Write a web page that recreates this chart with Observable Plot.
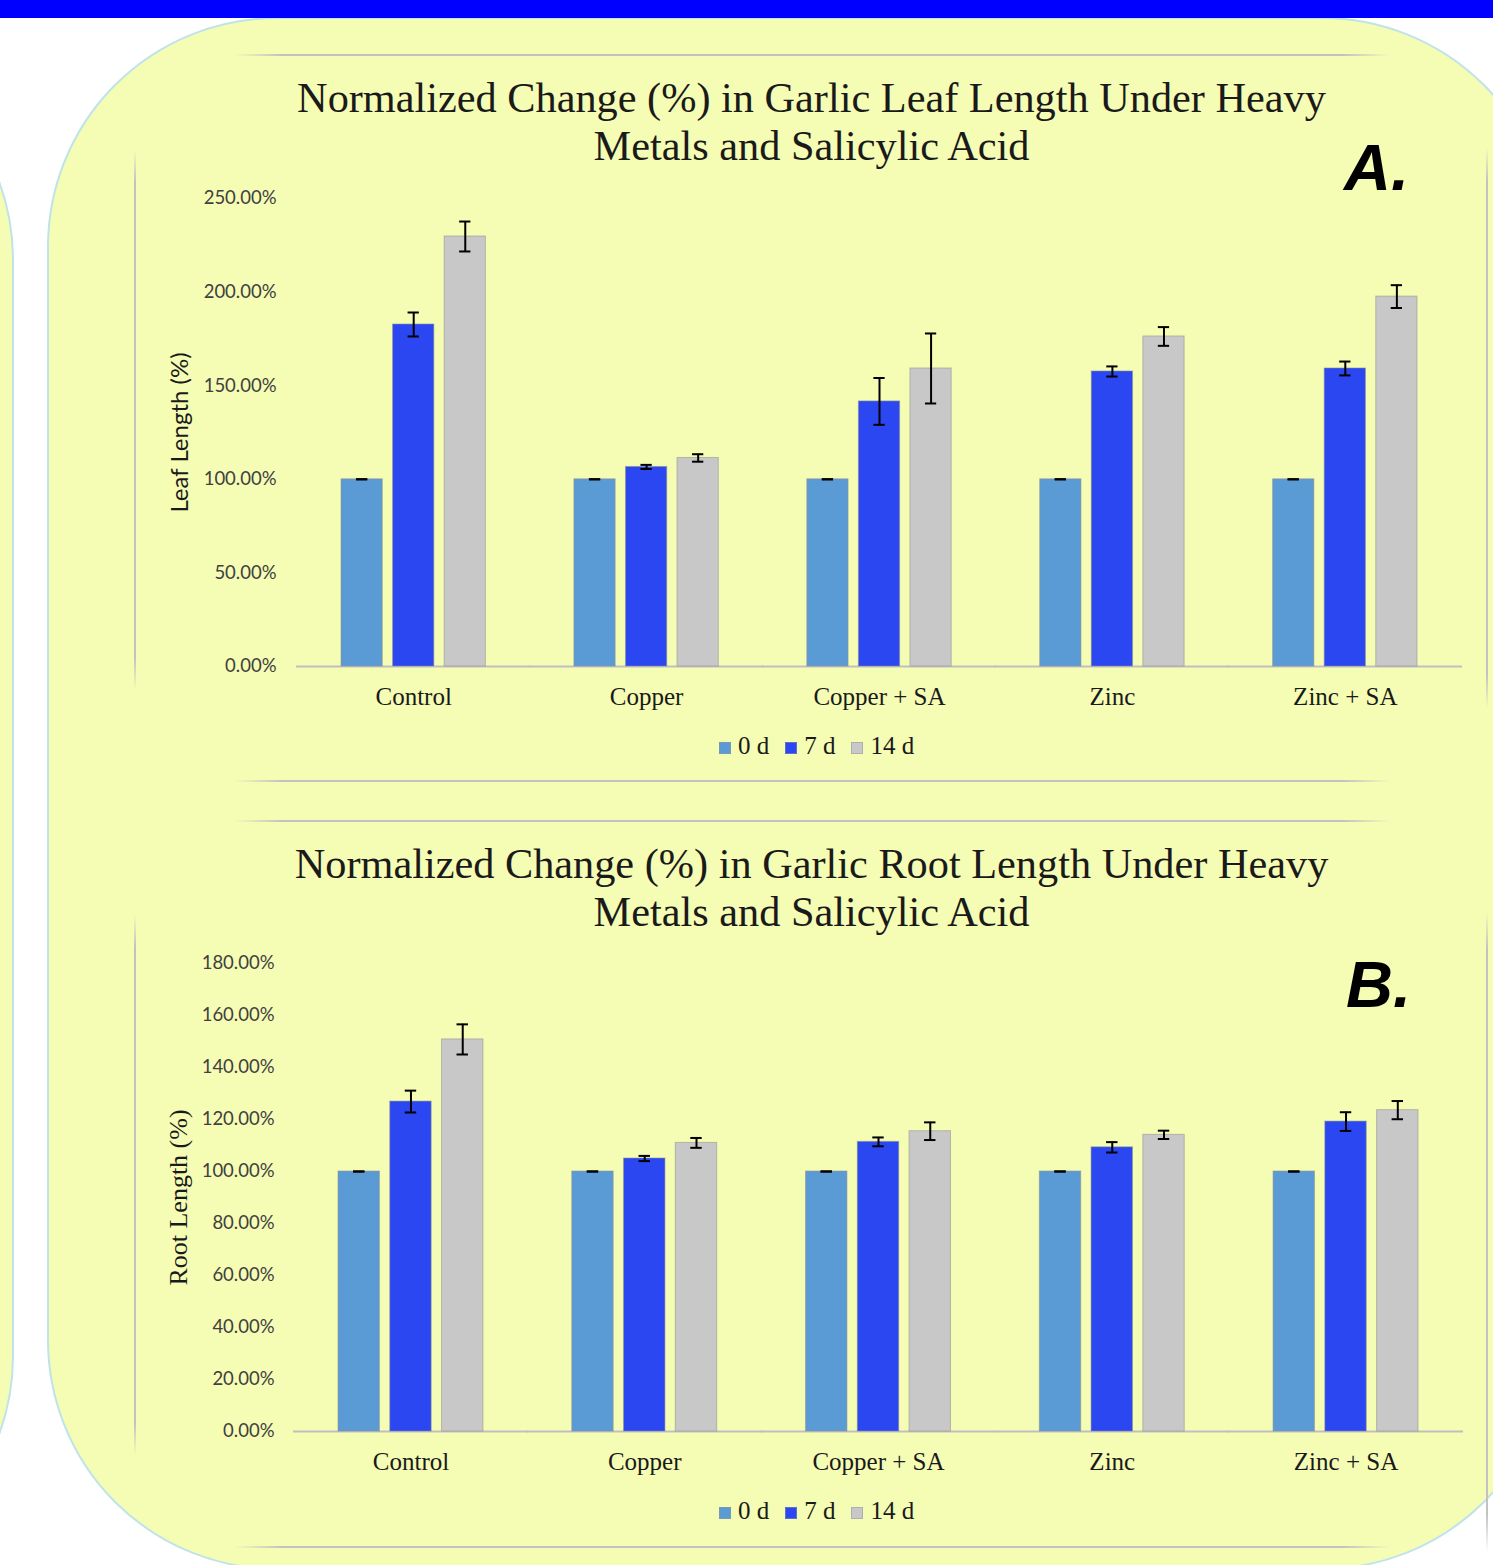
<!DOCTYPE html>
<html>
<head>
<meta charset="utf-8">
<script src="https://cdn.jsdelivr.net/npm/d3@7"></script>
<script src="https://cdn.jsdelivr.net/npm/@observablehq/plot@0.6"></script>
<style>
  html, body { margin: 0; padding: 0; background: #ffffff; }
  #page { position: relative; width: 1493px; height: 1565px; overflow: hidden; background: #ffffff; }
  .bluebar { position: absolute; left: 0; top: 0; width: 1493px; height: 18px; background: #0000ff; z-index: 3; }
  .panel { position: absolute; background: #f5fcb4; border: 2px solid #bfe3ea; border-radius: 230px; box-sizing: border-box; }
  .hline { position: absolute; height: 1.5px; background: linear-gradient(to right, rgba(190,190,190,0), #c2c2c2 4%, #c2c2c2 96%, rgba(190,190,190,0)); }
  .vline { position: absolute; width: 1.5px; background: linear-gradient(to bottom, rgba(190,190,190,0), #c2c2c2 6%, #c2c2c2 94%, rgba(190,190,190,0)); }
  .title { position: absolute; left: 135px; width: 1353px; text-align: center; font-family: "Liberation Serif", "Times New Roman", serif; font-size: 42.3px; line-height: 48px; color: #1a1a1a; }
  .tag { position: absolute; font-family: "Liberation Sans", Arial, sans-serif; font-weight: bold; font-style: italic; font-size: 65px; line-height: 65px; color: #000; }
  .chart { position: absolute; left: 135px; }
  .legend { position: absolute; left: 140px; width: 1353px; text-align: center; font-family: "Liberation Serif", "Times New Roman", serif; font-size: 25px; line-height: 30px; color: #1a1a1a; white-space: nowrap; }
  .legend .sw { display: inline-block; width: 12px; height: 12px; margin-right: 7px; box-sizing: border-box; border: 1px solid rgba(150,150,150,0.5); }
  .legend .item { margin-right: 16px; }
  .legend .item:last-child { margin-right: 0; }
</style>
</head>
<body>
<div id="page">
  <div class="panel" style="left:-600px; top:30px; width:614px; height:1556px;"></div>
  <div class="panel" style="left:47px; top:17px; width:1505px; height:1553px;"></div>
  <div class="bluebar"></div>

  <div class="hline" style="left:235px; top:54px; width:1155px;"></div>
  <div class="vline" style="left:134px; top:150px; height:540px;"></div>
  <div class="vline" style="left:1486px; top:148px; height:560px;"></div>
  <div class="hline" style="left:235px; top:780px; width:1155px;"></div>

  <div class="hline" style="left:235px; top:820px; width:1155px;"></div>
  <div class="vline" style="left:134px; top:915px; height:540px;"></div>
  <div class="vline" style="left:1486px; top:912px; height:640px;"></div>
  <div class="hline" style="left:235px; top:1546px; width:1155px;"></div>

  <div class="title" style="top:74px;">Normalized Change (%) in Garlic Leaf Length Under Heavy<br>Metals and Salicylic Acid</div>
  <div class="tag" style="left:1344px; top:135px;">A.</div>
  <div class="chart" id="chartA" style="top:180px;"></div>
  <div class="legend" id="legendA" style="top:731px;"></div>

  <div class="title" style="top:840px;">Normalized Change (%) in Garlic Root Length Under Heavy<br>Metals and Salicylic Acid</div>
  <div class="tag" style="left:1346px; top:952px;">B.</div>
  <div class="chart" id="chartB" style="top:945px;"></div>
  <div class="legend" id="legendB" style="top:1496px;"></div>
</div>
<script>
// ---------- data ----------
const categories = ["Control", "Copper", "Copper + SA", "Zinc", "Zinc + SA"];
const series = ["0 d", "7 d", "14 d"];
const seriesColors = ["#5b9bd5", "#2b47f2", "#c8c8c8"];

// Leaf length (%), chart A
const leaf0d = [100, 100, 100, 100, 100];
const leaf7d = [182.7, 106.6, 141.6, 157.6, 159.2];
const leaf14d = [229.7, 111.4, 159.2, 176.3, 197.6];
const leafErr0d = [0, 0, 0, 0, 0];
const leafErr7d = [6.4, 1.1, 12.5, 2.7, 3.7];
const leafErr14d = [8.0, 2.0, 18.7, 5.0, 6.1];
const leafTicks = [0, 50, 100, 150, 200, 250];

// Root length (%), chart B
const root0d = [100, 100, 100, 100, 100];
const root7d = [126.9, 105.0, 111.4, 109.3, 119.2];
const root14d = [150.8, 111.0, 115.5, 114.1, 123.6];
const rootErr0d = [0, 0, 0, 0, 0];
const rootErr7d = [4.2, 1.0, 1.7, 2.0, 3.6];
const rootErr14d = [5.8, 1.9, 3.4, 1.6, 3.5];
const rootTicks = [0, 20, 40, 60, 80, 100, 120, 140, 160, 180];

// ---------- build ----------
function toRows(values, errors) {
  return categories.flatMap((c, i) => series.map((s, j) => ({
    group: c, series: s, value: values[j][i], err: errors[j][i]
  })));
}

const SERIF = "Liberation Serif, Times New Roman, serif";
const SANS = "Lato, Carlito, Calibri, sans-serif";

function chart(rows, opts) {
  return Plot.plot({
    width: 1353,
    height: 540,
    marginTop: 18,
    marginBottom: 54,
    marginLeft: opts.marginLeft,
    marginRight: opts.marginRight,
    style: { background: "transparent", overflow: "visible" },
    fx: { domain: categories, paddingInner: 0.38, paddingOuter: 0, round: false, label: null },
    x: { domain: series, paddingInner: 0.2, paddingOuter: 0, round: false, axis: null },
    y: { domain: opts.yDomain, axis: null },
    color: { domain: series, range: seriesColors },
    marks: [
      Plot.ruleY([0], { stroke: "#bfbfbf", strokeWidth: 2, insetLeft: -45, insetRight: -45 }),
      Plot.barY(rows, { fx: "group", x: "series", y: "value", fill: "series", stroke: "#8f8f8f", strokeOpacity: 0.55, strokeWidth: 1 }),
      Plot.ruleX(rows, { fx: "group", x: "series", y1: d => d.value - d.err, y2: d => d.value + d.err, stroke: "#000", strokeWidth: 2 }),
      Plot.tickY(rows, { fx: "group", x: "series", y: d => d.value - d.err, stroke: "#000", strokeWidth: 2, insetLeft: 15, insetRight: 15 }),
      Plot.tickY(rows, { fx: "group", x: "series", y: d => d.value + d.err, stroke: "#000", strokeWidth: 2, insetLeft: 15, insetRight: 15 }),
      Plot.axisY(opts.ticks, {
        tickSize: 0, tickPadding: opts.tickPadding, label: null,
        tickFormat: d => d.toFixed(2) + "%",
        fontFamily: SANS, fontSize: 18.5, fill: "#404040"
      }),
      Plot.axisFx({ anchor: "bottom", tickSize: 0, tickPadding: 21, label: null, fontFamily: SERIF, fontSize: 25, fill: "#1a1a1a" }),
      Plot.text([opts.yLabel], {
        fx: () => categories[0], text: d => d, frameAnchor: "left", textAnchor: "middle", lineAnchor: "middle", rotate: -90,
        dx: opts.labelDx, fontFamily: opts.labelFont, fontSize: opts.labelSize, fill: "#1a1a1a"
      })
    ]
  });
}

function legend(el) {
  el.innerHTML = series.map((s, i) =>
    `<span class="item"><span class="sw" style="background:${seriesColors[i]}"></span>${s}</span>`
  ).join("");
}

const rowsA = toRows([leaf0d, leaf7d, leaf14d], [leafErr0d, leafErr7d, leafErr14d]);
const rowsB = toRows([root0d, root7d, root14d], [rootErr0d, rootErr7d, rootErr14d]);

document.getElementById("chartA").appendChild(chart(rowsA, {
  marginLeft: 206, marginRight: 71, yDomain: [0, 250], ticks: leafTicks, tickPadding: 65,
  yLabel: "Leaf Length (%)", labelDx: -161, labelFont: SANS, labelSize: 24
}));
document.getElementById("chartB").appendChild(chart(rowsB, {
  marginLeft: 203, marginRight: 70, yDomain: [0, 180], ticks: rootTicks, tickPadding: 64,
  yLabel: "Root Length (%)", labelDx: -160, labelFont: SERIF, labelSize: 26
}));
legend(document.getElementById("legendA"));
legend(document.getElementById("legendB"));
</script>
</body>
</html>
